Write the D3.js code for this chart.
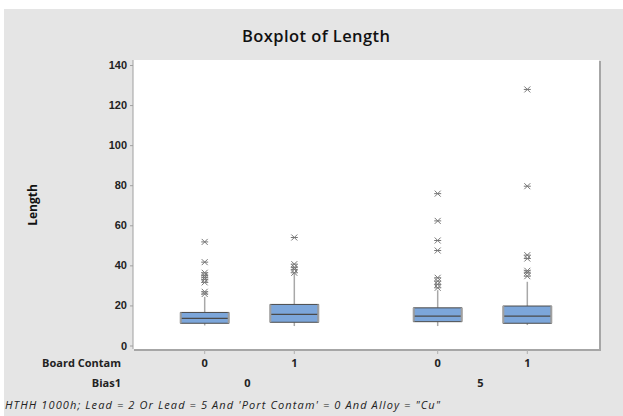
<!DOCTYPE html>
<html>
<head>
<meta charset="utf-8">
<script src="https://cdn.jsdelivr.net/npm/d3@7"></script>
<style>
    body { margin: 0; background: #fff; }
    svg { display: block; font-family: 'Open Sans', 'DejaVu Sans', sans-serif; }
</style>
</head>
<body>
<script>
// values
const boardContam = ['0', '1', '0', '1'];
const bias1 = ['0', '0', '5', '5'];
const biasGroups = ['0', '5'];
const q1 = [11.1, 11.6, 11.9, 11.1];
const medians = [13.5, 15.5, 14.7, 14.7];
const q3 = [16.5, 20.5, 18.8, 19.7];
const whiskerLow = [10.0, 9.7, 9.7, 10.2];
const whiskerHigh = [24.3, 36.0, 27.6, 31.8];
const outliers = [
    [51.7, 41.6, 36.3, 35.0, 34.0, 33.0, 31.5, 26.8, 25.7],
    [53.9, 40.6, 39.0, 38.0, 36.3],
    [75.8, 62.2, 52.4, 47.4, 33.8, 32.1, 30.5, 28.8],
    [127.8, 79.5, 45.1, 43.4, 37.3, 36.3, 34.6]
];
const yTicks = [0, 20, 40, 60, 80, 100, 120, 140];

const width = 623,
    height = 416;

const plot = {left: 133, right: 599, top: 60, bottom: 349};

const svg = d3.select('body')
    .append('svg')
    .attr('width', width)
    .attr('height', height);

// outer panel
svg.append('rect')
    .attr('x', 4).attr('y', 9)
    .attr('width', width - 4).attr('height', height - 9)
    .attr('fill', '#e5e5e5');

// plot area with a grey edge on right and bottom
svg.append('rect')
    .attr('x', plot.left + 1).attr('y', plot.top + 1)
    .attr('width', plot.right - plot.left + 1).attr('height', plot.bottom - plot.top + 1)
    .attr('fill', '#a6a6a6');
svg.append('rect')
    .attr('x', plot.left).attr('y', plot.top)
    .attr('width', plot.right - plot.left).attr('height', plot.bottom - plot.top)
    .attr('fill', '#fff');

svg.append('text')
    .attr('x', 316).attr('y', 42)
    .attr('text-anchor', 'middle')
    .attr('textLength', 148)
    .style('font-size', '16.5px')
    .style('font-weight', 600)
    .attr('fill', '#111')
    .text('Boxplot of Length');

// slot of each box: index plus a gap between bias groups
const slot = (d, i) => i + biasGroups.indexOf(bias1[i]) * 0.6;

const x = d3.scaleLinear()
    .domain([-0.8, 4.4])
    .range([plot.left, plot.right]);

const y = d3.scaleLinear()
    .domain([0, 140])
    .range([345.5, 65]);

// y axis
const yAxis = svg.append('g')
    .attr('transform', 'translate(' + plot.left + ',0)')
    .call(d3.axisLeft(y).tickValues(yTicks).tickSize(3).tickPadding(3));
yAxis.select('.domain').attr('stroke', '#a0a0a0').attr('d', 'M0,' + plot.top + 'V' + plot.bottom);
yAxis.selectAll('.tick line').attr('stroke', '#a0a0a0');
yAxis.selectAll('.tick text')
    .style('font-size', '11px')
    .style('font-weight', 600)
    .attr('fill', '#222');

svg.append('text')
    .attr('transform', 'translate(37,205) rotate(-90)')
    .attr('text-anchor', 'middle')
    .style('font-size', '12px')
    .style('font-weight', 700)
    .attr('fill', '#111')
    .text('Length');

// x axis ticks under each box
const xs = boardContam.map(slot);
svg.append('g')
    .selectAll('line')
    .data(xs)
    .enter().append('line')
    .attr('x1', d => x(d)).attr('x2', d => x(d))
    .attr('y1', plot.bottom + 1).attr('y2', plot.bottom + 5)
    .attr('stroke', '#b0b0b0');

svg.append('g')
    .selectAll('text')
    .data(boardContam)
    .enter().append('text')
    .attr('x', (d, i) => x(slot(d, i)))
    .attr('y', 367)
    .attr('text-anchor', 'middle')
    .style('font-size', '11px')
    .style('font-weight', 700)
    .attr('fill', '#222')
    .text(d => d);

svg.append('g')
    .selectAll('text')
    .data(biasGroups)
    .enter().append('text')
    .attr('x', (d, g) => {
        const idx = bias1.map((b, i) => b === d ? i : -1).filter(i => i >= 0);
        return (x(slot(null, idx[0])) + x(slot(null, idx[idx.length - 1]))) / 2 - 2;
    })
    .attr('y', 387)
    .attr('text-anchor', 'middle')
    .style('font-size', '11px')
    .style('font-weight', 700)
    .attr('fill', '#222')
    .text(d => d);

svg.append('text')
    .attr('x', 121).attr('y', 367)
    .attr('text-anchor', 'end')
    .style('font-size', '11px')
    .style('font-weight', 700)
    .attr('fill', '#222')
    .text('Board Contam');

svg.append('text')
    .attr('x', 121).attr('y', 387)
    .attr('text-anchor', 'end')
    .style('font-size', '11px')
    .style('font-weight', 700)
    .attr('fill', '#222')
    .text('Bias1');

svg.append('text')
    .attr('x', 5).attr('y', 409)
    .attr('textLength', 435)
    .style('font-size', '11px')
    .style('font-style', 'italic')
    .attr('fill', '#222')
    .text('HTHH 1000h; Lead = 2 Or Lead = 5 And \'Port Contam\' = 0 And Alloy = "Cu"');

// boxes
const boxW = 48;
const boxes = svg.append('g')
    .selectAll('g')
    .data(boardContam)
    .enter().append('g')
    .attr('transform', (d, i) => 'translate(' + x(slot(d, i)) + ',0)');

boxes.append('line')
    .attr('y1', (d, i) => y(whiskerLow[i]))
    .attr('y2', (d, i) => y(q1[i]))
    .attr('stroke', '#a8a8a8')
    .attr('stroke-width', 1.5);

boxes.append('line')
    .attr('y1', (d, i) => y(q3[i]))
    .attr('y2', (d, i) => y(whiskerHigh[i]))
    .attr('stroke', '#a8a8a8')
    .attr('stroke-width', 1.5);

boxes.append('rect')
    .attr('x', -boxW / 2)
    .attr('y', (d, i) => y(q3[i]))
    .attr('width', boxW)
    .attr('height', (d, i) => y(q1[i]) - y(q3[i]))
    .attr('fill', '#7ca6da')
    .attr('stroke', '#4a4a4a')
    .attr('stroke-width', 1);

boxes.append('line')
    .attr('x1', -boxW / 2).attr('x2', boxW / 2)
    .attr('y1', (d, i) => y(medians[i]))
    .attr('y2', (d, i) => y(medians[i]))
    .attr('stroke', '#4a4a4a')
    .attr('stroke-width', 1.2);

// lighter grey sides of each box
[-1, 1].forEach(function (s) {
    boxes.append('line')
        .attr('x1', s * boxW / 2).attr('x2', s * boxW / 2)
        .attr('y1', (d, i) => y(q3[i]))
        .attr('y2', (d, i) => y(q1[i]))
        .attr('stroke', '#a0a0a0')
        .attr('stroke-width', 2);
});

// outlier asterisks
const star = 'M-3,-3L3,3M-3,3L3,-3M-3.5,0L3.5,0';
boxes.each(function (d, i) {
    d3.select(this).selectAll('path')
        .data(outliers[i])
        .enter().append('path')
        .attr('transform', v => 'translate(0,' + y(v) + ')')
        .attr('d', star)
        .attr('fill', 'none')
        .attr('stroke', '#777')
        .attr('stroke-width', 1);
});
</script>
</body>
</html>
